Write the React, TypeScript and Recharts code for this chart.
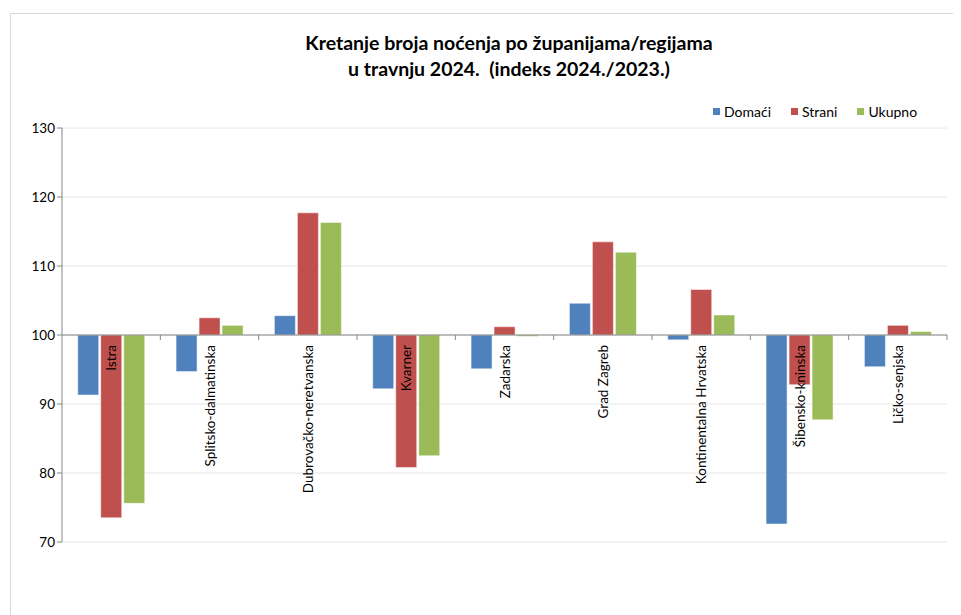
import { BarChart, Bar, XAxis, YAxis, CartesianGrid, ReferenceLine, ReferenceDot } from 'recharts';

const regions = [
  'Istra',
  'Splitsko-dalmatinska',
  'Dubrovačko-neretvanska',
  'Kvarner',
  'Zadarska',
  'Grad Zagreb',
  'Kontinentalna Hrvatska',
  'Šibensko-kninska',
  'Ličko-senjska',
];
const domaci = [91.3, 94.7, 102.8, 92.2, 95.1, 104.6, 99.3, 72.6, 95.4];
const strani = [73.5, 102.5, 117.7, 80.8, 101.2, 113.5, 106.6, 92.8, 101.4];
const ukupno = [75.6, 101.4, 116.3, 82.5, 99.8, 112.0, 102.9, 87.7, 100.5];
const yTicks = [70, 80, 90, 100, 110, 120, 130];
const BASE = 100;

const data = regions.map((name, i) => ({
  name,
  domaci: domaci[i],
  strani: strani[i],
  ukupno: ukupno[i],
}));

const range = (key: 'domaci' | 'strani' | 'ukupno') => (d: any) => [Math.min(BASE, d[key]), Math.max(BASE, d[key])];

const W = 960;
const H = 590;
const margin = { top: 114, right: 24, bottom: 62, left: 11 };
const yAxisWidth = 40;
const band = (W - margin.left - margin.right - yAxisWidth) / regions.length;
const font = 'Lato, "Liberation Sans", sans-serif';

const series = [
  { key: 'domaci' as const, name: 'Domaći', color: '#4F81BD' },
  { key: 'strani' as const, name: 'Strani', color: '#C0504D' },
  { key: 'ukupno' as const, name: 'Ukupno', color: '#9BBB59' },
];

const CategoryMark = (label: string) => (props: any) => {
  const { cx, cy } = props;
  return (
    <g>
      <line x1={cx + band / 2} y1={cy} x2={cx + band / 2} y2={cy + 5} stroke="#868686" />
      <text
        x={cx}
        y={cy + 10}
        transform={`rotate(-90, ${cx}, ${cy + 10})`}
        textAnchor="end"
        dominantBaseline="central"
        fontSize={13.5}
        fontFamily={font}
        fill="#000"
      >
        {label}
      </text>
    </g>
  );
};

export default function App() {
  return (
    <div style={{ width: 953, height: 607, overflow: 'hidden' }}>
      <div
        style={{
          position: 'relative',
          marginLeft: 2,
          marginTop: 5,
          width: 1000,
          height: 640,
          border: '1px solid #d9d9d9',
          boxSizing: 'border-box',
          background: '#fff',
        }}
      >
        <div
          style={{
            position: 'absolute',
            left: 0,
            top: 16,
            width: 996,
            textAlign: 'center',
            fontFamily: font,
            fontWeight: 700,
            fontSize: 19.5,
            lineHeight: '26px',
            color: '#000',
          }}
        >
          Kretanje broja noćenja po županijama/regijama
          <br />
          u travnju 2024.&nbsp; (indeks 2024./2023.)
        </div>
        <div
          style={{
            position: 'absolute',
            left: 682,
            top: 89,
            display: 'flex',
            fontFamily: font,
            fontSize: 14,
            color: '#000',
          }}
        >
          {series.map((s) => (
            <div key={s.key} style={{ display: 'flex', alignItems: 'center', marginLeft: 20 }}>
              <span style={{ width: 7, height: 7, background: s.color, display: 'inline-block', marginRight: 4 }} />
              <span>{s.name}</span>
            </div>
          ))}
        </div>
        <BarChart width={W} height={H} data={data} margin={margin} barCategoryGap="16%" barGap={2}>
          <CartesianGrid vertical={false} stroke="#e6e6e6" />
          <XAxis dataKey="name" hide />
          <YAxis
            width={yAxisWidth}
            domain={[70, 130]}
            ticks={yTicks}
            interval={0}
            axisLine={{ stroke: '#868686' }}
            tickLine={{ stroke: '#868686' }}
            tickSize={5}
            tick={{ fontSize: 13.5, fontFamily: font, fill: '#000' }}
          />
          {series.map((s) => (
            <Bar
              key={s.key}
              dataKey={range(s.key)}
              name={s.name}
              fill={s.color}
              stroke="#ffffff"
              strokeWidth={0.5}
              isAnimationActive={false}
            />
          ))}
          <ReferenceLine y={BASE} stroke="#868686" strokeWidth={1.2} />
          {regions.map((r) => (
            <ReferenceDot key={r} x={r} y={BASE} r={0} shape={CategoryMark(r)} />
          ))}
        </BarChart>
      </div>
    </div>
  );
}
